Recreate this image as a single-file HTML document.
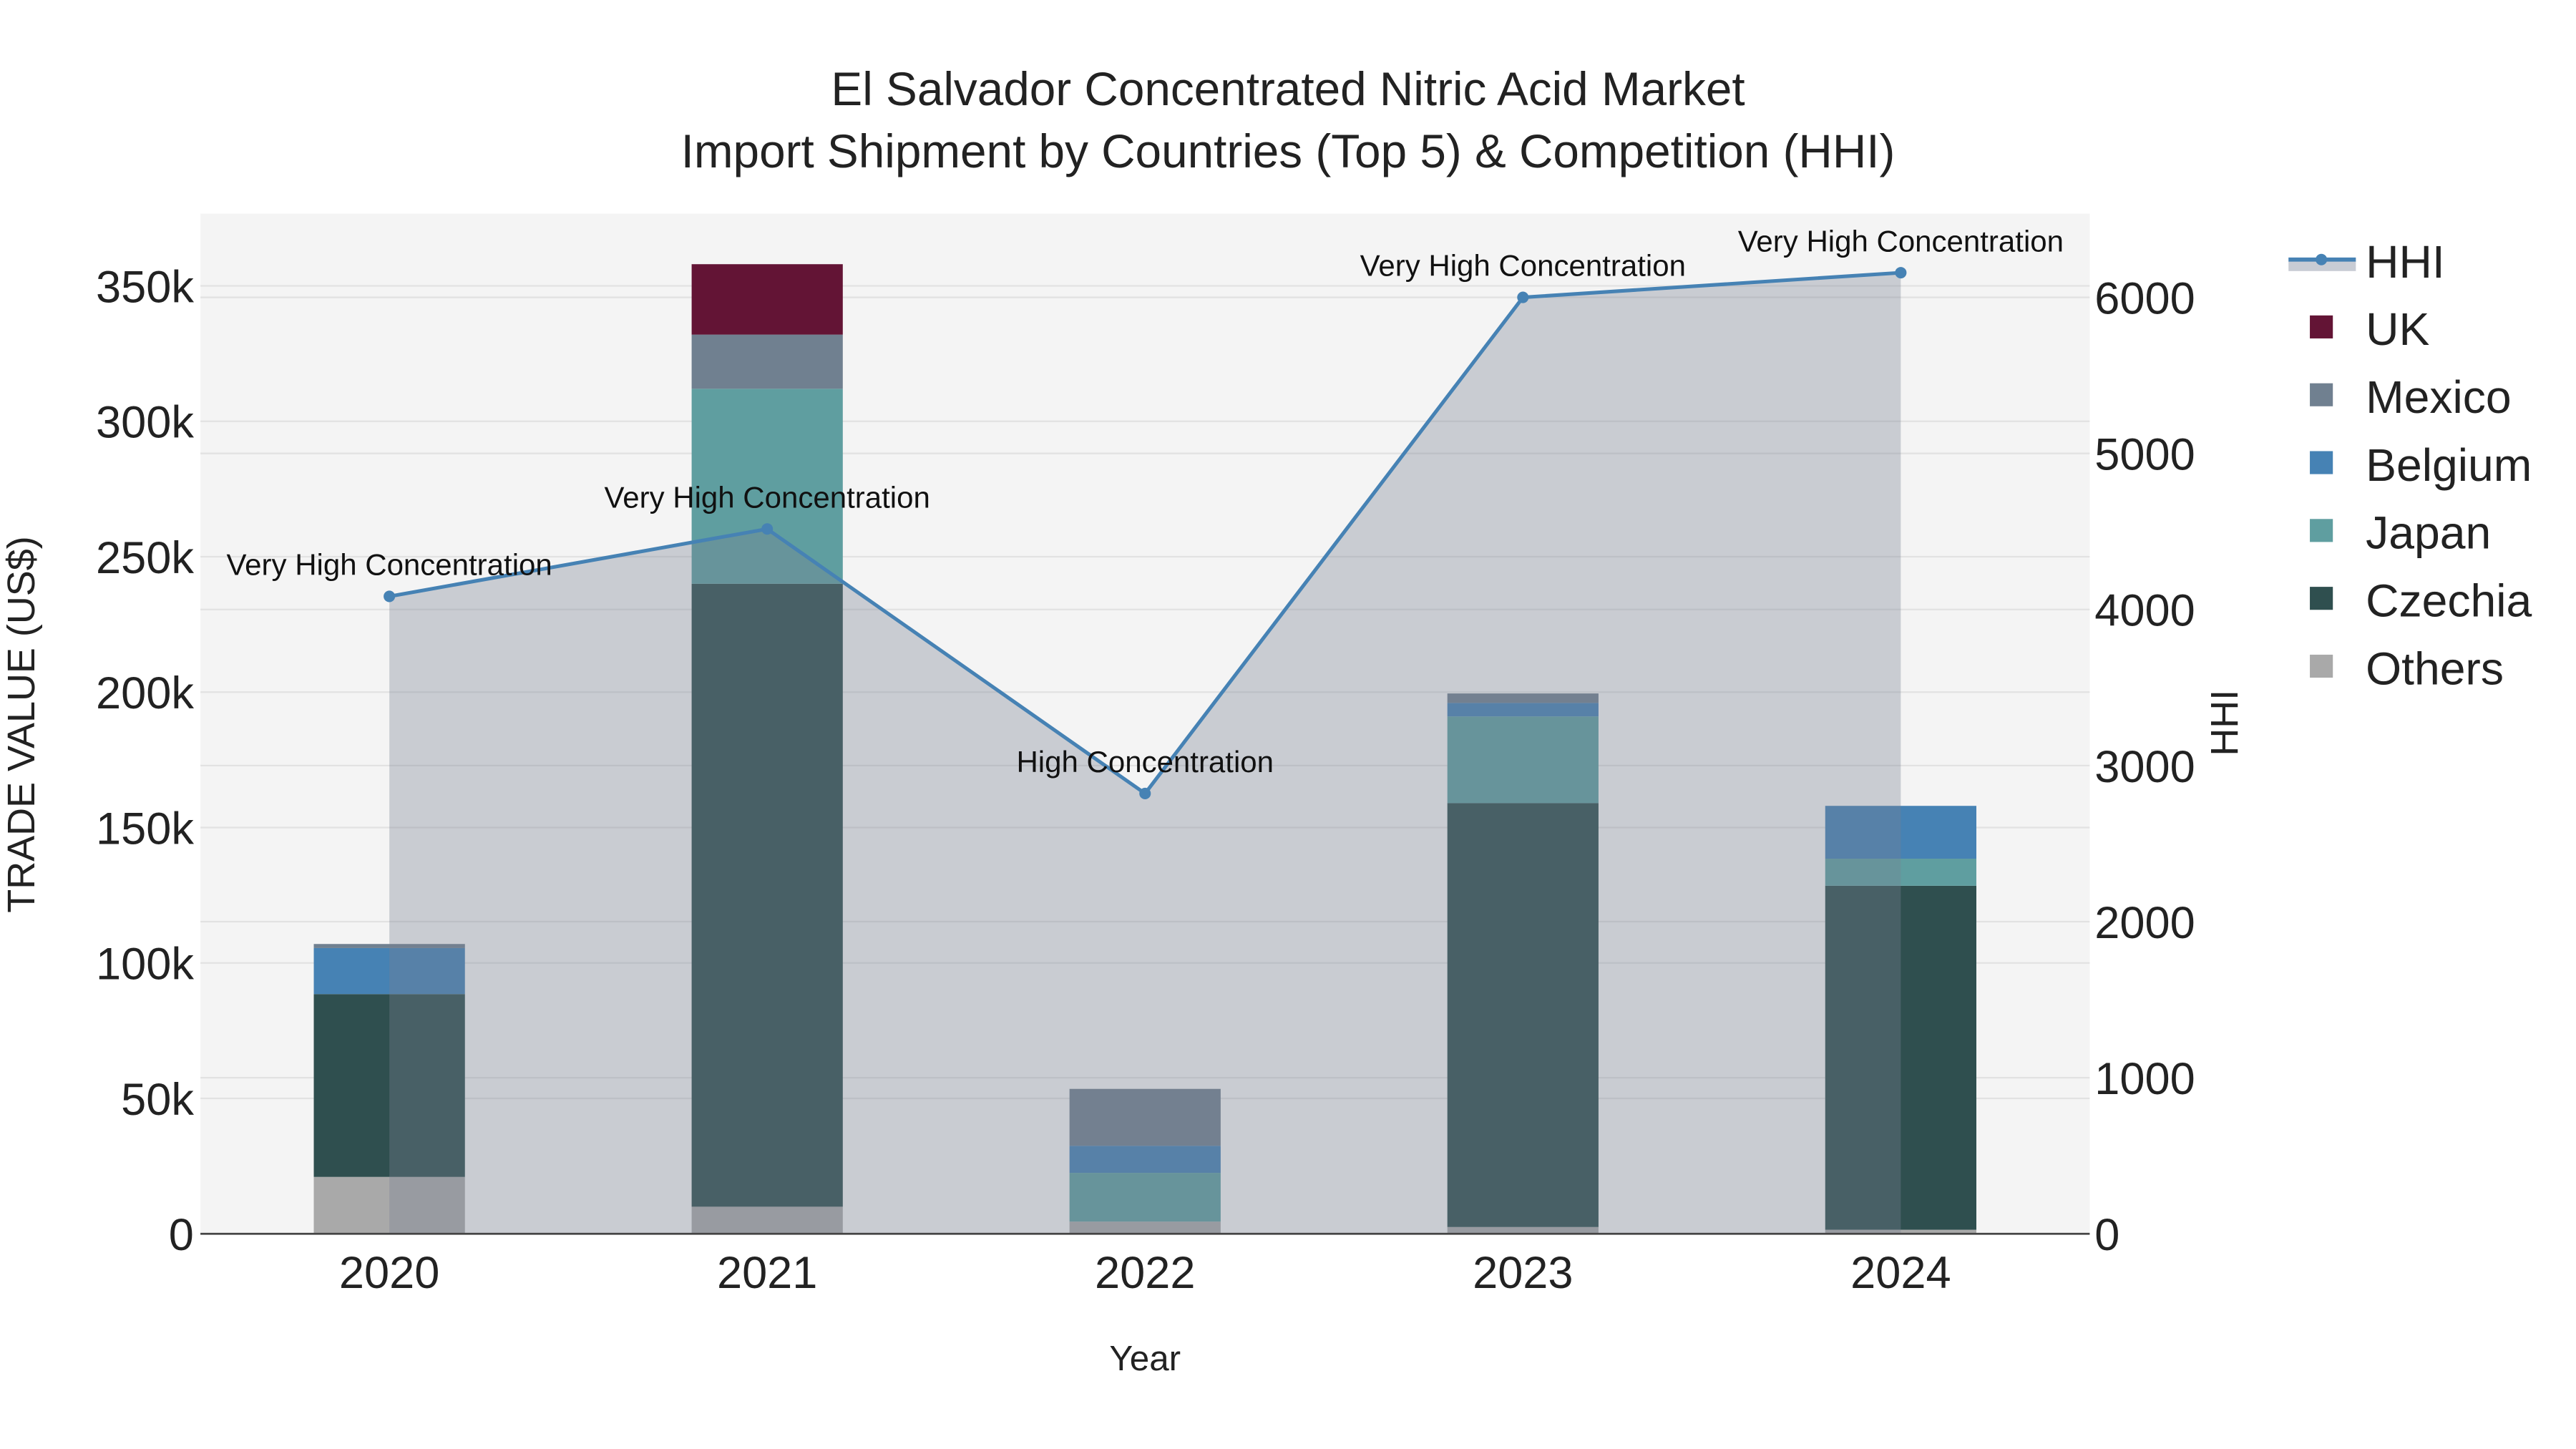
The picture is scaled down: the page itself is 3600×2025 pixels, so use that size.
<!DOCTYPE html>
<html><head><meta charset="utf-8"><style>
html,body{margin:0;padding:0;background:#fff;}
svg{display:block;font-family:"Liberation Sans",Arial,sans-serif;}
</style></head><body>
<svg id="chart" width="3600" height="2025" viewBox="0 0 1568 882" xmlns="http://www.w3.org/2000/svg">
<rect x="122" y="130" width="1150" height="621" fill="#f4f4f4"/>
<g id="grid"></g>
<g id="bars"></g>
<g id="hhi"></g>
<line x1="122" y1="751" x2="1272" y2="751" stroke="#444" stroke-width="1.2"/>
<g id="ticks"></g>
<text x="784" y="64" text-anchor="middle" font-size="28.6" fill="#222">El Salvador Concentrated Nitric Acid Market</text>
<text x="784" y="102" text-anchor="middle" font-size="28.6" fill="#222">Import Shipment by Countries (Top 5) &amp; Competition (HHI)</text>
<text x="697" y="834" text-anchor="middle" font-size="21.5" fill="#222">Year</text>
<text transform="translate(21,441) rotate(-90)" text-anchor="middle" font-size="23.5" fill="#222">TRADE VALUE (US$)</text>
<text transform="translate(1362,440) rotate(-90)" text-anchor="middle" font-size="23.5" fill="#222">HHI</text>
<g id="legend"></g>
</svg>
<script>
const years = ["2020","2021","2022","2023","2024"];
const series = ["Others","Czechia","Japan","Belgium","Mexico","UK"];
const others  = [21000, 10000, 4500, 2500, 1500];
const czechia = [67500, 230000, 0, 156500, 127000];
const japan   = [0, 72000, 18000, 32000, 10000];
const belgium = [17000, 0, 10000, 5000, 19500];
const mexico  = [1500, 20000, 21000, 3500, 0];
const uk      = [0, 26000, 0, 0, 0];
const hhi     = [4084, 4516, 2821, 6000, 6158];
const hhiLabels = ["Very High Concentration","Very High Concentration","High Concentration","Very High Concentration","Very High Concentration"];
const yTicks = [0,50000,100000,150000,200000,250000,300000,350000];
const yTickLabels = ["0","50k","100k","150k","200k","250k","300k","350k"];
const y2Ticks = [0,1000,2000,3000,4000,5000,6000];
const colors = {Others:"#a9a9a9",Czechia:"#2f4f4f",Japan:"#5f9ea0",Belgium:"#4682b4",Mexico:"#708090",UK:"#631435"};
const vals = {Others:others,Czechia:czechia,Japan:japan,Belgium:belgium,Mexico:mexico,UK:uk};
const NS="http://www.w3.org/2000/svg";
const X0=237, DX=230, BW=92, Y0=751;
const xs=i=>X0+i*DX;
const ys=v=>Y0-v*577/350000;
const y2s=v=>Y0-v*95/1000;
function mk(tag,attrs,parent){const e=document.createElementNS(NS,tag);for(const k in attrs)e.setAttribute(k,attrs[k]);parent.appendChild(e);return e;}
const grid=document.getElementById('grid'),bars=document.getElementById('bars'),hg=document.getElementById('hhi'),tk=document.getElementById('ticks'),lg=document.getElementById('legend');
yTicks.forEach((t,i)=>{
  const l=mk('line',{x1:122,x2:1272,y1:ys(t),y2:ys(t),stroke:'#e2e2e2','stroke-width':1},grid);
  
  
  const tx=mk('text',{x:118,y:ys(t)+10,'text-anchor':'end','font-size':27.5,fill:'#222'},tk);
  tx.textContent=yTickLabels[i];
  
  
});
y2Ticks.forEach(t=>{
  const l=mk('line',{x1:122,x2:1272,y1:y2s(t),y2:y2s(t),stroke:'#e2e2e2','stroke-width':1},grid);
  
  
  const tx=mk('text',{x:1275,y:y2s(t)+10,'font-size':27.5,fill:'#222'},tk);
  tx.textContent=String(t);
  
  
});
years.forEach((yr,i)=>{
  const tx=mk('text',{x:xs(i),y:784,'text-anchor':'middle','font-size':27.5,fill:'#222'},tk);
  tx.textContent=yr;
  
  
  let base=0;
  series.forEach(s=>{
    const v=vals[s][i]; if(!v) return;
    const r=mk('rect',{x:xs(i)-BW/2,y:ys(base+v),width:BW,height:ys(base)-ys(base+v),fill:colors[s]},bars);
    
    
    base+=v;
  });
});
let d='M'+xs(0)+','+Y0;
hhi.forEach((v,i)=>{d+=' L'+xs(i)+','+y2s(v);});
d+=' L'+xs(hhi.length-1)+','+Y0+' Z';
const area=mk('path',{d:d,fill:'rgb(120,130,147)','fill-opacity':0.35},hg);


const line=mk('polyline',{points:hhi.map((v,i)=>xs(i)+','+y2s(v)).join(' '),fill:'none',stroke:'#4682b4','stroke-width':2.2},hg);


hhi.forEach((v,i)=>{
  const c=mk('circle',{cx:xs(i),cy:y2s(v),r:3.5,fill:'#4682b4'},hg);
  
  
  const t=mk('text',{x:xs(i),y:y2s(v)-13,'text-anchor':'middle','font-size':18.3,fill:'#111'},hg);
  t.textContent=hhiLabels[i];
  
  
});
const lh=mk('rect',{x:1393,y:159,width:41,height:6,fill:'#c8ccd4'},lg);


const ll=mk('line',{x1:1393,x2:1434,y1:158,y2:158,stroke:'#4682b4','stroke-width':2.5},lg);


const lc=mk('circle',{cx:1413,cy:158,r:3.5,fill:'#4682b4'},lg);


const lt=mk('text',{x:1440,y:169,'font-size':28,fill:'#222'},lg);
lt.textContent='HHI';


["UK","Mexico","Belgium","Japan","Czechia","Others"].forEach((s,k)=>{
  const cy=200+k*41.3;
  const r=mk('rect',{x:1406,y:cy-8,width:14,height:14,fill:colors[s]},lg);
  
  
  const t=mk('text',{x:1440,y:cy+10,'font-size':28,fill:'#222'},lg);
  t.textContent=s;
  
  
});
</script>
</body></html>
